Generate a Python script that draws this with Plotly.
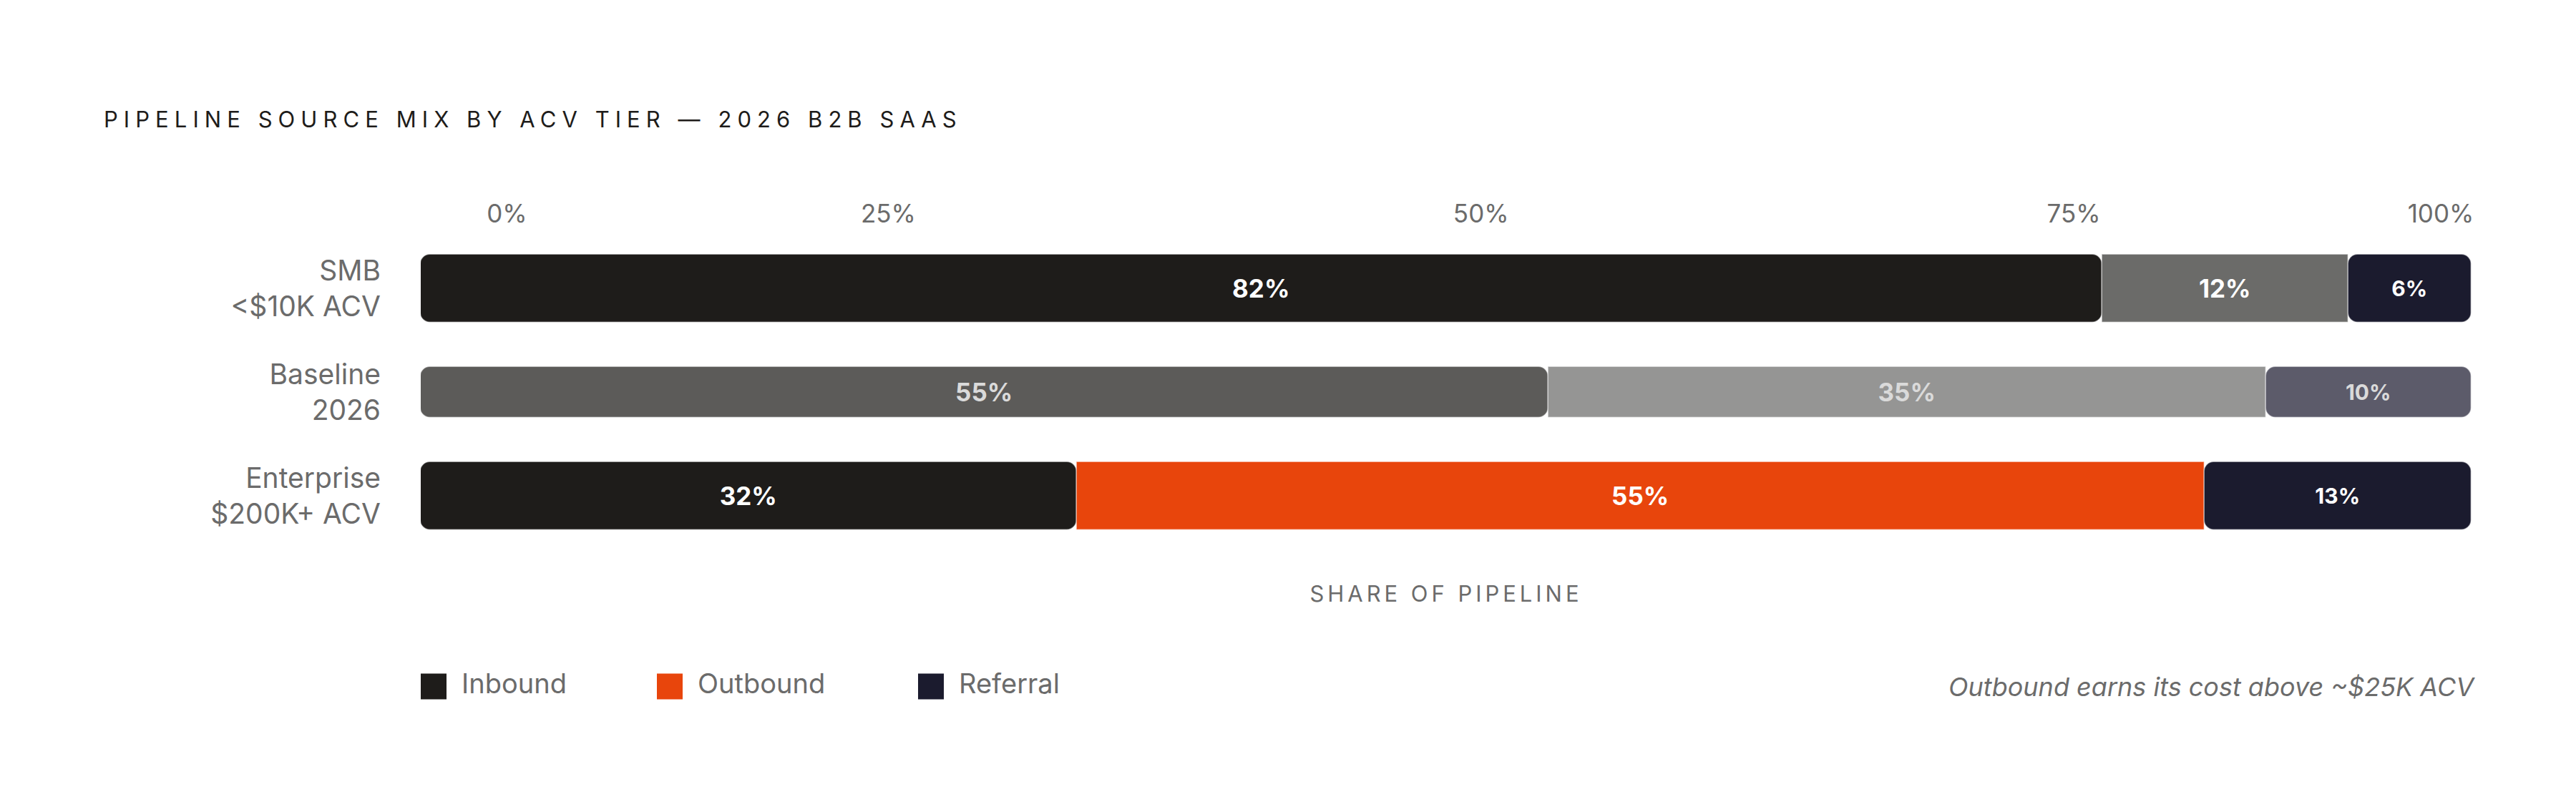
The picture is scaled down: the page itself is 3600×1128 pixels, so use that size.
import plotly.graph_objects as go

# ---------------- data ----------------
tiers = ["SMB", "Baseline", "Enterprise"]
tier_sublabels = ["&lt;$10K ACV", "2026", "$200K+ ACV"]
sources = ["Inbound", "Outbound", "Referral"]
inbound = [82, 55, 32]
outbound = [12, 35, 55]
referral = [6, 10, 13]
axis_tick_labels = ["0%", "25%", "50%", "75%", "100%"]
title_text = "PIPELINE SOURCE MIX BY ACV TIER — 2026 B2B SAAS"
x_title_text = "SHARE OF PIPELINE"
note_text = "Outbound earns its cost above ~$25K ACV"

# ---------------- layout / style ----------------
W, H = 3600, 1128
PLOT_L, PLOT_R = 588, 3454
PLOT_T, PLOT_B = 331, 766
FONT = "Inter"
GRAY = "#6b6b6b"
INK = "#1e1c1a"

seg_colors = {
    "SMB": ["#1e1c1a", "#6b6b69", "#1b1b2e"],
    "Baseline": ["#5c5b59", "#959594", "#5c5b6a"],
    "Enterprise": ["#1e1c1a", "#e8450c", "#1b1b2e"],
}
text_colors = {"SMB": "#ffffff", "Baseline": "#dadada", "Enterprise": "#ffffff"}
seg_text_size = [35, 35, 30]
legend_colors = ["#1e1c1a", "#e8450c", "#1b1b2e"]
bar_width = {"SMB": 0.655, "Baseline": 0.49, "Enterprise": 0.655}
# where the reference places its top tick labels along the bar scale
tick_label_pos = [4.2, 22.8, 51.7, 80.6, 98.5]
legend_offsets = [0, 330, 695]
CORNER = 14

fig = go.Figure()

series = [inbound, outbound, referral]
cum = [0] * len(tiers)
for k, (name, vals) in enumerate(zip(sources, series)):
    colors = [seg_colors[t][k] for t in tiers]
    tcolors = [text_colors[t] for t in tiers]
    if k == 0:
        # drawn from its right end back to zero so the left end gets rounded
        xs = [-v for v in vals]
        base = [c + v for c, v in zip(cum, vals)]
        radius = CORNER
    else:
        xs = list(vals)
        base = list(cum)
        radius = CORNER if k == len(series) - 1 else 0
    fig.add_trace(go.Bar(
        y=tiers, x=xs, base=base, orientation="h", name=name,
        width=[bar_width[t] for t in tiers],
        marker=dict(color=colors, cornerradius=radius,
                    line=dict(width=1.5, color="rgba(255,255,255,0.45)")),
        text=[f"{v}%" for v in vals], textposition="inside",
        insidetextanchor="middle", textangle=0,
        textfont=dict(family=FONT, size=seg_text_size[k], color=tcolors,
                      weight=700),
        showlegend=False, hoverinfo="skip",
    ))
    cum = [c + v for c, v in zip(cum, vals)]

# empty trace so the top tick-label axis gets drawn
fig.add_trace(go.Scatter(x=[], y=[], xaxis="x2", yaxis="y",
                         showlegend=False, hoverinfo="skip"))

# custom legend swatches
fig.add_trace(go.Scatter(
    x=[o + 18 for o in legend_offsets], y=[0] * len(sources),
    xaxis="x3", yaxis="y3", mode="markers",
    marker=dict(symbol="square", size=36, color=legend_colors),
    showlegend=False, hoverinfo="skip", cliponaxis=False,
))
fig.add_trace(go.Scatter(
    x=[o + 57 for o in legend_offsets], y=[0] * len(sources),
    xaxis="x3", yaxis="y3", mode="text", text=sources,
    textposition="middle right",
    textfont=dict(family=FONT, size=38, color=GRAY),
    showlegend=False, hoverinfo="skip", cliponaxis=False,
))

xdom = [PLOT_L / W, PLOT_R / W]
fig.update_layout(
    width=W, height=H, autosize=False,
    margin=dict(l=0, r=0, t=0, b=0, pad=0),
    paper_bgcolor="white", plot_bgcolor="white",
    barmode="overlay", bargap=0,
    font=dict(family=FONT, color=GRAY),
    title=dict(text=title_text, x=145 / W, xanchor="left", xref="paper",
               y=1 - 167 / H, yanchor="middle", yref="paper",
               font=dict(family=FONT, size=31, color=INK)),
    xaxis=dict(domain=xdom, range=[0, 100], showgrid=False, zeroline=False,
               showline=False, showticklabels=False, ticks="",
               automargin=True,
               title=dict(text=x_title_text, standoff=53,
                          font=dict(family=FONT, size=31, color=GRAY))),
    xaxis2=dict(overlaying="x", side="top", anchor="y", range=[0, 100],
                tickvals=tick_label_pos, ticktext=axis_tick_labels,
                tickfont=dict(family=FONT, size=35, color=GRAY),
                ticks="", showgrid=False, zeroline=False, showline=False,
                ticklabelstandoff=12, automargin=False),
    yaxis=dict(domain=[(H - PLOT_B) / H, (H - PLOT_T) / H],
               type="category", categoryorder="array", categoryarray=tiers,
               range=[2.5, -0.5], tickvals=tiers,
               ticktext=[f"{t}<br>{s}" for t, s in zip(tiers, tier_sublabels)],
               tickfont=dict(family=FONT, size=39, color=GRAY),
               ticks="", showgrid=False, zeroline=False, showline=False,
               ticklabelstandoff=55, automargin=False),
    xaxis3=dict(domain=xdom, range=[0, PLOT_R - PLOT_L], anchor="y3",
                visible=False, fixedrange=True),
    yaxis3=dict(domain=[(H - 997) / H, (H - 922) / H], range=[-1, 1],
                anchor="x3", visible=False, fixedrange=True),
    annotations=[dict(text=note_text, xref="paper", yref="paper",
                      x=3461 / W, xanchor="right", y=1 - 960 / H,
                      yanchor="middle", showarrow=False,
                      font=dict(family=FONT, size=36, color=GRAY,
                                style="italic"))],
)

post = """
document.body.style.margin = '0';
var gd = document.getElementById('{plot_id}');
function spaceOut(){
  gd.querySelectorAll('.gtitle').forEach(function(t){t.style.letterSpacing='0.26em';});
  gd.querySelectorAll('.xtitle').forEach(function(t){t.style.letterSpacing='0.16em';});
}
spaceOut();
gd.on('plotly_afterplot', spaceOut);
"""

fig.write_html("out.html", config={"displayModeBar": False}, post_script=post)
